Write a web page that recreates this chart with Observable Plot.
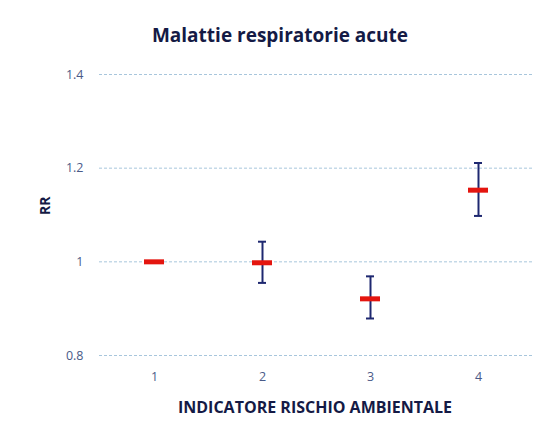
<!DOCTYPE html>
<html><head><meta charset="utf-8">
<script src="https://cdn.jsdelivr.net/npm/d3@7"></script>
<script src="https://cdn.jsdelivr.net/npm/@observablehq/plot@0.6"></script>
<style>
body{margin:0;background:#fff;}
#wrap{position:relative;width:545px;height:434px;font-family:"Open Sans",Lato,sans-serif;}
#title{position:absolute;left:0;width:560px;top:22px;text-align:center;font-weight:bold;font-size:19px;color:#141a45;z-index:1;}
</style></head>
<body><div id="wrap"><div id="title">Malattie respiratorie acute</div></div>
<script>
const categories = ["1","2","3","4"];
const rr = [1.0, 0.998, 0.921, 1.153];
const lower = [null, 0.955, 0.879, 1.098];
const upper = [null, 1.043, 0.969, 1.211];
const yTicks = [0.8, 1, 1.2, 1.4];

const data = categories.map((c,i)=>({cat:c, rr:rr[i], lo:lower[i], hi:upper[i]}));
const ci = data.filter(d=>d.lo!=null);

const chart = Plot.plot({
  width:545, height:434,
  marginLeft:99, marginRight:12, marginTop:74, marginBottom:79,
  style:{fontFamily:"'Open Sans', Lato, sans-serif", fontSize:"12.5px", color:"#4a5a88", background:"transparent"},
  x:{type:"band", domain:categories, padding:0, label:null, tickSize:0, tickPadding:17},
  y:{domain:[0.8,1.4], ticks:yTicks, tickFormat:d=>String(d), label:null, tickSize:0, tickPadding:16},
  marks:[
    Plot.gridY(yTicks,{stroke:"#a8c6dc", strokeOpacity:1, strokeDasharray:"3,2"}),
    Plot.ruleX(ci,{x:"cat", y1:"lo", y2:"hi", stroke:"#1e2870", strokeWidth:2}),
    Plot.tickY(ci,{x:"cat", y:"lo", stroke:"#1e2870", strokeWidth:2, insetLeft:50, insetRight:50}),
    Plot.tickY(ci,{x:"cat", y:"hi", stroke:"#1e2870", strokeWidth:2, insetLeft:50, insetRight:50}),
    Plot.tickY(data,{x:"cat", y:"rr", stroke:"#e4150f", strokeWidth:5, insetLeft:44, insetRight:44}),
    Plot.text(["RR"],{frameAnchor:"left", dx:-54, dy:0, rotate:-90, fontWeight:"bold", fontSize:14, fill:"#141a45"}),
    Plot.text(["INDICATORE RISCHIO AMBIENTALE"],{frameAnchor:"bottom", dy:57, dx:-1.5, fontWeight:"bold", fontSize:16, fill:"#141a45"})
  ]
});
chart.style.position="absolute"; chart.style.left="0"; chart.style.top="0";
document.getElementById("wrap").appendChild(chart);
</script></body></html>
